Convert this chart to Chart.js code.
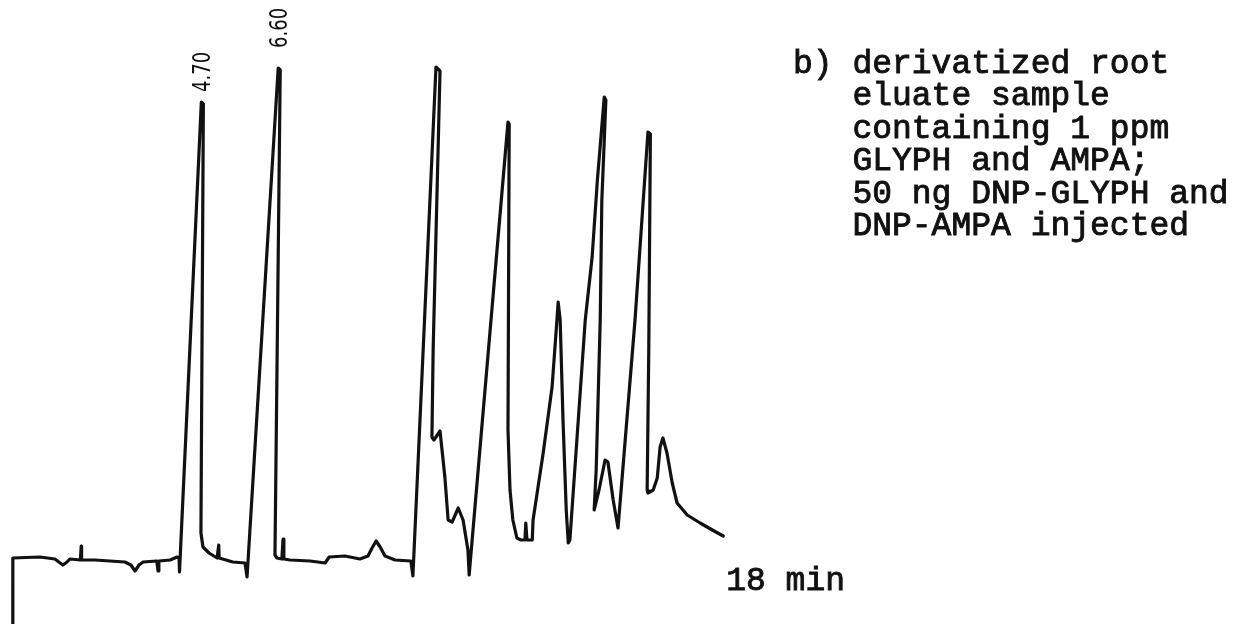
<!DOCTYPE html>
<html>
<head>
<meta charset="utf-8">
<script src="https://cdn.jsdelivr.net/npm/chart.js@4"></script>
<style>
  html, body { margin: 0; padding: 0; background: #fff; }
  #wrap { width: 1239px; height: 624px; position: relative; }
</style>
</head>
<body>
<div id="wrap"><canvas id="chart"></canvas></div>
<script>
// chromatogram trace (time in min, detector signal in arbitrary units)
const timeMin = [
  0.00, 0.02, 0.69, 1.06, 1.19, 1.26, 1.36, 1.43, 1.69, 1.71, 1.72, 2.05, 2.42, 2.79, 2.94, 3.04,
  3.14, 3.24, 3.58, 3.61, 3.63, 3.91, 4.08, 4.13, 4.14,
  4.68, 4.73, 4.67, 4.72, 4.87, 5.07, 5.09, 5.11, 5.12, 5.46, 5.76, 5.81,
  6.58, 6.63, 6.50, 6.55, 6.67, 6.70, 6.72, 6.87, 7.37, 7.74, 7.84, 8.23, 8.60, 8.80, 8.90,
  9.00, 9.10, 9.22, 9.47, 9.86, 9.91,
  10.48, 10.58, 10.41, 10.38, 10.43, 10.58, 10.70, 10.78, 10.88, 11.03, 11.15, 11.27, 11.30,
  12.26, 12.29, 12.26, 12.31, 12.38, 12.48, 12.58, 12.68, 12.70, 12.73, 12.86,
  12.88, 13.13, 13.35, 13.47, 13.50, 13.55, 13.62, 13.70, 13.75, 13.79,
  14.17, 14.34, 14.47, 14.64, 14.68, 14.58, 14.54, 14.44, 14.39, 14.51, 14.66, 14.73, 14.86, 14.98,
  15.40, 15.72, 15.78, 15.74, 15.70, 15.72, 15.85, 15.95, 16.02, 16.09, 16.19, 16.32, 16.44,
  16.69, 17.01, 17.31, 17.58
];
const signal = [
  -14, 0.4, 0.6, 0.2, -0.6, -1.0, -0.4, 0.2, 0.0, 2.8, 0.0, 0.0, -0.2, -0.4, -1.0, -2.2,
  -1.0, -0.4, -0.2, -2.2, -0.2, 0.0, 0.6, 0.4, -2.4,
  91.6, 91.2, 5.4, 2.6, 1.4, 0.4, 0.4, 3.0, 0.4, -0.4, -0.6, -3.4,
  98.4, 98.0, 1.0, 0.4, 0.2, 4.2, 0.2, 0.0, -0.2, -0.6, 0.6, 0.8, 0.2, 0.8, 2.4,
  3.8, 2.6, 0.8, 0.0, -0.2, -3.2,
  98.6, 97.8, 42.0, 24.6, 24.0, 25.8, 16.6, 8.0, 7.6, 10.4, 8.0, 2.0, -3.0,
  87.6, 87.2, 26.0, 14.0, 8.0, 4.4, 4.0, 4.0, 7.4, 4.0, 4.0,
  8.0, 21.4, 34.6, 48.0, 51.6, 48.0, 28.0, 10.0, 3.4, 4.0,
  48.0, 60.6, 76.0, 92.6, 92.0, 72.0, 48.0, 18.0, 10.0, 14.0, 20.0, 19.6, 12.0, 6.4,
  48.0, 85.6, 85.2, 42.0, 14.0, 13.4, 14.0, 16.4, 22.6, 24.4, 21.4, 15.4, 11.4,
  9.0, 7.4, 6.0, 4.8
];

// retention times printed by the integrator
const peakLabelTimes = [4.70, 6.60];
const peakLabels = ['4.70', '6.60'];

const endLabel = '18 min';
const noteLines = [
  'b) derivatized root',
  '   eluate sample',
  '   containing 1 ppm',
  '   GLYPH and AMPA;',
  '   50 ng DNP-GLYPH and',
  '   DNP-AMPA injected'
];

const points = timeMin.map((t, i) => ({ x: t, y: signal[i] }));

// typewriter text looks heavier than Liberation Mono regular, so stroke it a bit
function typeText(ctx, str, x, y) {
  ctx.fillText(str, x, y);
  ctx.strokeText(str, x, y);
}

// draws the retention time tags, the run-end label and the caption
const textPlugin = {
  id: 'chromText',
  afterDatasetsDraw(chart) {
    const ctx = chart.ctx;
    const xs = chart.scales.x;
    const ys = chart.scales.y;
    ctx.save();
    ctx.fillStyle = '#111';
    ctx.strokeStyle = '#111';

    const gaps = [10, 20];
    peakLabelTimes.forEach((t, i) => {
      let top = -Infinity;
      points.forEach(p => { if (Math.abs(p.x - t) < 0.12 && p.y > top) top = p.y; });
      const px = xs.getPixelForValue(t);
      const py = ys.getPixelForValue(top) - gaps[i];
      ctx.save();
      ctx.translate(px + 8, py);
      ctx.rotate(-Math.PI / 2);
      ctx.scale(0.75, 1);
      ctx.font = '24px "DejaVu Sans"';
      ctx.textAlign = 'left';
      ctx.textBaseline = 'alphabetic';
      ctx.fillText(peakLabels[i], 0, 0);
      ctx.restore();
    });

    ctx.font = '33px "Liberation Mono", "Courier New", monospace';
    ctx.textAlign = 'left';
    ctx.textBaseline = 'alphabetic';
    ctx.lineWidth = 0.9;
    typeText(ctx, endLabel, xs.getPixelForValue(18) - 14, 590);

    noteLines.forEach((line, i) => {
      typeText(ctx, line, 793, 73 + i * 32.4);
    });
    ctx.restore();
  }
};

new Chart(document.getElementById('chart'), {
  type: 'scatter',
  data: {
    datasets: [{
      data: points,
      showLine: true,
      borderColor: '#111',
      borderWidth: 3.2,
      borderJoinStyle: 'round',
      borderCapStyle: 'round',
      pointRadius: 0,
      tension: 0
    }]
  },
  options: {
    responsive: true,
    maintainAspectRatio: false,
    animation: false,
    layout: { padding: 0 },
    plugins: {
      legend: { display: false },
      tooltip: { enabled: false }
    },
    scales: {
      x: { type: 'linear', min: -0.297, max: 30.33, display: false },
      y: { type: 'linear', min: -12.8, max: 112, display: false }
    }
  },
  plugins: [textPlugin]
});
</script>
</body>
</html>
